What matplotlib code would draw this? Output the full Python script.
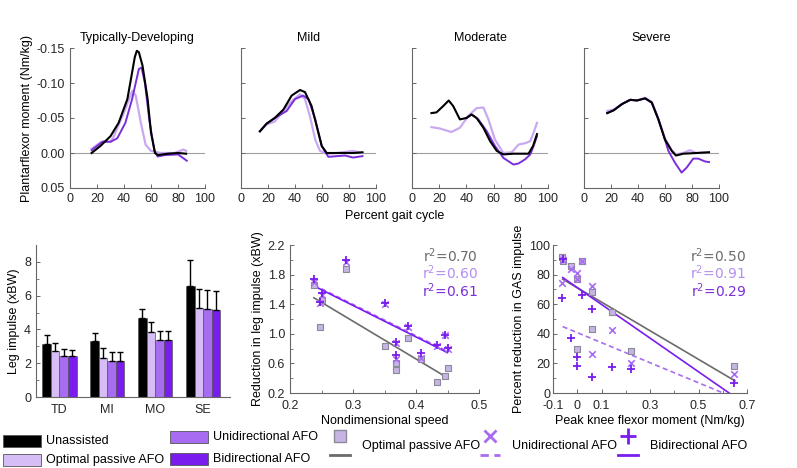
import numpy as np
import matplotlib.pyplot as plt
from matplotlib.patches import Rectangle

plt.rcParams['font.family'] = ['Liberation Sans', 'DejaVu Sans']
plt.rcParams['font.size'] = 9

PASSIVE = '#d6bdf6'
UNI = '#a86cf2'
BI = '#7a1cee'
LINE_LIGHT = '#c9a9f1'
LINE_PURPLE = '#7b2fd9'
GRAY = '#6b6b6b'
SPINE = '#666666'
TXT = '#262626'

# ---- top row: plantarflexor moment over the gait cycle ----
panel_titles = ['Typically-Developing', 'Mild', 'Moderate', 'Severe']

td_black_x = [16, 22.5, 30, 36, 42.5, 46, 48, 49.5, 51, 53.7, 57.5, 60, 63, 65, 72.5, 80, 86]
td_black_y = [0, -0.010, -0.024, -0.043, -0.077, -0.115, -0.137, -0.146, -0.144, -0.125, -0.077, -0.029, 0, 0.003, 0.001, 0, 0.001]
td_light_x = [16, 22.5, 25, 30, 32.5, 40, 46.2, 48.7, 52.5, 56, 60, 67.5, 77.5, 84, 86]
td_light_y = [-0.006, -0.015, -0.017, -0.016, -0.024, -0.058, -0.089, -0.082, -0.043, -0.012, -0.003, 0, 0, -0.005, -0.003]
td_purple_x = [16, 24, 30, 35, 41, 46, 51, 53, 55.5, 58.7, 62.5, 65, 70, 80, 86.5]
td_purple_y = [-0.004, -0.016, -0.016, -0.021, -0.043, -0.077, -0.120, -0.122, -0.100, -0.048, -0.003, 0.005, 0.003, 0.002, 0.011]

mi_black_x = [14, 19, 25, 31.4, 37.5, 43.7, 47.4, 52.3, 56, 59.8, 63.5, 71, 83, 90]
mi_black_y = [-0.031, -0.042, -0.050, -0.062, -0.082, -0.090, -0.087, -0.067, -0.039, -0.010, 0, 0, 0, -0.001]
mi_light_x = [14, 19, 25, 31.4, 37.5, 43.7, 47.4, 51, 55, 58.5, 63.5, 71, 83, 90]
mi_light_y = [-0.031, -0.041, -0.045, -0.060, -0.074, -0.084, -0.077, -0.053, -0.019, -0.003, 0.001, 0, -0.003, 0]
mi_purple_x = [14, 19, 25, 33.8, 40, 46, 50, 55, 59.8, 64.7, 71, 77, 83, 90]
mi_purple_y = [-0.031, -0.042, -0.050, -0.060, -0.077, -0.082, -0.077, -0.048, -0.010, 0.0055, 0.0045, 0.0036, 0.0065, 0.0045]

mo_black_x = [14.3, 18, 22.9, 27, 30.3, 35.2, 40, 43.8, 47.5, 52.5, 57.4, 62.3, 67.2, 74.6, 82, 85.7, 89, 91.9]
mo_black_y = [-0.057, -0.058, -0.067, -0.075, -0.067, -0.048, -0.050, -0.055, -0.050, -0.036, -0.017, -0.003, 0.002, 0.001, 0.001, 0.001, -0.010, -0.027]
mo_light_x = [14.3, 20.4, 29, 35.2, 41.4, 47.5, 52.5, 56.2, 61, 67.2, 73.4, 78.3, 83.2, 87, 89.4, 91.9]
mo_light_y = [-0.037, -0.035, -0.030, -0.036, -0.053, -0.064, -0.065, -0.048, -0.019, 0, -0.001, -0.012, -0.014, -0.017, -0.029, -0.043]
mo_purple_x = [40, 43.8, 48.8, 55, 61, 67.2, 74.6, 78.3, 83.2, 87, 89.4, 91.9]
mo_purple_y = [-0.050, -0.055, -0.048, -0.031, -0.010, 0.007, 0.0165, 0.015, 0.009, 0.002, -0.010, -0.024]

se_black_x = [17.2, 22, 28.2, 34.3, 39.2, 45.3, 50.2, 55.1, 60, 65, 68.1, 73.5, 83.3, 92.6]
se_black_y = [-0.057, -0.061, -0.070, -0.076, -0.075, -0.078, -0.072, -0.048, -0.019, -0.003, 0.0036, 0.001, 0, -0.001]
se_light_x = [17.2, 22, 28.2, 34.3, 39.2, 45.3, 50.2, 55.1, 60, 65, 68.1, 73.5, 78.4, 83.3, 92.6]
se_light_y = [-0.060, -0.062, -0.070, -0.076, -0.075, -0.079, -0.073, -0.049, -0.021, -0.004, 0.002, 0.000, -0.004, 0, -0.001]
se_purple_x = [17.2, 22, 28.2, 34.3, 39.2, 45.3, 50.2, 55.1, 60, 62.5, 67.4, 72.3, 76, 80.9, 84.6, 89.5, 92.6]
se_purple_y = [-0.057, -0.061, -0.070, -0.076, -0.075, -0.078, -0.072, -0.048, -0.019, -0.003, 0.014, 0.028, 0.021, 0.008, 0.008, 0.012, 0.013]

# ---- bottom left: leg impulse ----
groups = ['TD', 'MI', 'MO', 'SE']
imp_unassisted = [3.15, 3.30, 4.65, 6.60]
imp_passive = [2.70, 2.30, 3.85, 5.25]
imp_uni = [2.45, 2.15, 3.40, 5.20]
imp_bi = [2.40, 2.15, 3.40, 5.15]
err_unassisted = [0.50, 0.50, 0.55, 1.50]
err_passive = [0.50, 0.60, 0.60, 1.15]
err_uni = [0.40, 0.50, 0.50, 1.15]
err_bi = [0.40, 0.50, 0.50, 1.15]

# ---- bottom middle: reduction vs speed ----
speed = [0.238, 0.248, 0.250, 0.289, 0.350, 0.368, 0.369, 0.387, 0.408, 0.433, 0.446, 0.451]
red_passive = [1.66, 1.09, 1.46, 1.88, 0.84, 0.61, 0.51, 0.95, 0.66, 0.35, 0.43, 0.54]
red_uni = [1.70, 1.41, 1.53, 1.97, 1.40, 0.66, 0.88, 1.09, 0.67, 0.83, 0.98, 0.80]
red_bi = [1.74, 1.43, 1.55, 2.00, 1.41, 0.71, 0.89, 1.11, 0.74, 0.85, 0.99, 0.81]
speed_fit_slope = [-5.10, -4.23, -4.25]
speed_fit_icpt = [2.70, 2.666, 2.658]
speed_fit_range = [(0.238, 0.446), (0.238, 0.451), (0.238, 0.450)]
speed_r2 = ['0.70', '0.60', '0.61']

# ---- bottom right: GAS impulse vs knee moment ----
knee = [-0.061, -0.060, -0.027, -0.003, 0.000, 0.021, 0.059, 0.061, 0.145, 0.221, 0.648]
gas_passive = [92.0, 89.0, 85.8, 29.9, 76.8, 89.0, 68.4, 43.0, 55.0, 28.4, 18.2]
gas_uni = [74.5, 90.0, 83.6, 80.9, 77.0, 89.2, 72.3, 26.1, 42.6, 20.0, 12.8]
gas_bi = [64.0, 90.5, 37.0, 18.5, 24.1, 66.2, 56.8, 10.6, 17.4, 16.0, 6.5]
knee_fit_slope = [-96.7, -67.8, -113.7]
knee_fit_icpt = [71.1, 40.8, 71.2]
knee_r2 = ['0.50', '0.91', '0.29']

W, H = 797, 468
fig = plt.figure(figsize=(W / 100, H / 100), dpi=100)


def px_axes(x0, y0, x1, y1):
    return fig.add_axes([x0 / W, 1 - y1 / H, (x1 - x0) / W, (y1 - y0) / H])


def style(ax):
    for s in ['top', 'right']:
        ax.spines[s].set_visible(False)
    for s in ['left', 'bottom']:
        ax.spines[s].set_color(SPINE)
        ax.spines[s].set_linewidth(0.8)
    ax.tick_params(direction='in', length=3, width=0.7, colors=SPINE,
                   labelcolor=TXT, labelsize=9)
    ax.tick_params(which='minor', direction='in', length=2, width=0.6, colors=SPINE)


# top row
tops = [(70, 205), (241, 376), (412, 548), (584, 719)]
curves = [
    [(td_black_x, td_black_y), (td_light_x, td_light_y), (td_purple_x, td_purple_y)],
    [(mi_black_x, mi_black_y), (mi_light_x, mi_light_y), (mi_purple_x, mi_purple_y)],
    [(mo_black_x, mo_black_y), (mo_light_x, mo_light_y), (mo_purple_x, mo_purple_y)],
    [(se_black_x, se_black_y), (se_light_x, se_light_y), (se_purple_x, se_purple_y)],
]
for i, (x0, x1) in enumerate(tops):
    ax = px_axes(x0, 48, x1, 188)
    style(ax)
    ax.axhline(0, color='#a0a0a0', lw=0.8, zorder=1)
    (bx, by), (lx, ly), (px_, py) = curves[i]
    ax.plot(lx, ly, color=LINE_LIGHT, lw=1.6, zorder=2)
    ax.plot(px_, py, color=LINE_PURPLE, lw=1.4, zorder=3)
    ax.plot(bx, by, color='black', lw=1.5, zorder=4)
    ax.set_xlim(0, 100)
    ax.set_ylim(0.05, -0.15)
    ax.set_xticks([0, 20, 40, 60, 80, 100])
    ax.set_yticks([-0.15, -0.10, -0.05, 0.0, 0.05])
    ax.set_title(panel_titles[i], fontsize=9, pad=5)
    if i == 0:
        ax.set_yticklabels(['-0.15', '-0.10', '-0.05', '0.00', '0.05'])
        ax.set_ylabel('Plantarflexor moment (Nm/kg)', fontsize=9, labelpad=3)
    else:
        ax.set_yticklabels([])
fig.text(395 / W, 1 - 216 / H, 'Percent gait cycle', ha='center', va='center', fontsize=9)

# bar chart
ax = px_axes(36, 245, 230, 397)
style(ax)
pos = np.arange(len(groups))
w = 0.178
series = [(imp_unassisted, err_unassisted, 'black'), (imp_passive, err_passive, PASSIVE),
          (imp_uni, err_uni, UNI), (imp_bi, err_bi, BI)]
for k, (vals, errs, col) in enumerate(series):
    xs = pos + (k - 1.5) * w
    ax.bar(xs, vals, width=w, color=col, edgecolor='#555555', linewidth=0.5, zorder=2)
    ax.errorbar(xs, vals, yerr=[np.zeros(len(vals)), errs], fmt='none', ecolor='black',
                elinewidth=1, capsize=2.5, capthick=1, zorder=3)
ax.set_xlim(-0.49, 3.56)
ax.set_ylim(0, 9)
ax.set_xticks(pos)
ax.set_xticklabels(groups)
ax.set_yticks([0, 2, 4, 6, 8])
ax.set_yticks([1, 3, 5, 7], minor=True)
ax.tick_params(axis='x', length=0, pad=5)
ax.set_ylabel('Leg impulse (xBW)', fontsize=9, labelpad=3)

# reduction vs speed
ax = px_axes(290, 245, 479, 393)
style(ax)
fit_cols = [GRAY, UNI, BI]
for k in range(3):
    xa, xb = speed_fit_range[k]
    xx = np.array([xa, xb])
    ax.plot(xx, speed_fit_icpt[k] + speed_fit_slope[k] * xx, color=fit_cols[k],
            lw=1.2, dashes=(3, 2) if k == 1 else (None, None), zorder=2)
ax.scatter(speed, red_passive, marker='s', s=22, facecolor='#c6b5e4', edgecolor='#8c8a99',
           linewidth=0.8, zorder=3)
ax.scatter(speed, red_uni, marker='x', s=22, color=UNI, linewidth=1.2, zorder=4)
ax.scatter(speed, red_bi, marker='+', s=40, color=BI, linewidth=1.3, zorder=5)
ax.set_xlim(0.2, 0.5)
ax.set_ylim(0.2, 2.2)
ax.set_xticks([0.2, 0.3, 0.4, 0.5])
ax.set_xticks([0.25, 0.35, 0.45], minor=True)
ax.set_yticks([0.2, 0.6, 1.0, 1.4, 1.8, 2.2])
ax.set_yticks([0.4, 0.8, 1.2, 1.6, 2.0], minor=True)
ax.set_yticklabels(['0.2', '0.6', '1.0', '1.4', '1.8', '2.2'])
ax.tick_params(axis='x', pad=5)
ax.set_xlabel('Nondimensional speed', fontsize=9, labelpad=2)
ax.set_ylabel('Reduction in leg impulse (xBW)', fontsize=9, labelpad=3)
r2_cols = [GRAY, '#b58ef0', '#7b2fd9']
for k in range(3):
    ax.text(0.995, 0.93 - k * 0.12, 'r$^2$=' + speed_r2[k], transform=ax.transAxes,
            ha='right', va='center', color=r2_cols[k], fontsize=10, family='DejaVu Sans')

# GAS impulse vs knee moment
ax = px_axes(553, 245, 747, 393)
style(ax)
xx = np.array([-0.06, 0.65])
for k in range(3):
    ax.plot(xx, knee_fit_icpt[k] + knee_fit_slope[k] * xx, color=fit_cols[k],
            lw=1.2, dashes=(3, 2) if k == 1 else (None, None), zorder=2)
ax.scatter(knee, gas_passive, marker='s', s=22, facecolor='#c6b5e4', edgecolor='#8c8a99',
           linewidth=0.8, zorder=3)
ax.scatter(knee, gas_uni, marker='x', s=22, color=UNI, linewidth=1.2, zorder=4)
ax.scatter(knee, gas_bi, marker='+', s=40, color=BI, linewidth=1.3, zorder=5)
ax.set_xlim(-0.1, 0.7)
ax.set_ylim(0, 100)
ax.set_xticks([-0.1, 0, 0.1, 0.3, 0.5, 0.7])
ax.set_xticklabels(['-0.1', '0', '0.1', '0.3', '0.5', '0.7'])
ax.set_xticks([0.2, 0.4, 0.6], minor=True)
ax.set_yticks([0, 20, 40, 60, 80, 100])
ax.set_yticks([10, 30, 50, 70, 90], minor=True)
ax.tick_params(axis='x', pad=5)
ax.tick_params(axis='y', pad=2)
ax.set_xlabel('Peak knee flexor moment (Nm/kg)', fontsize=9, labelpad=2)
ax.set_ylabel('Percent reduction in GAS impulse', fontsize=9, labelpad=3)
for k in range(3):
    ax.text(0.995, 0.93 - k * 0.12, 'r$^2$=' + knee_r2[k], transform=ax.transAxes,
            ha='right', va='center', color=r2_cols[k], fontsize=10, family='DejaVu Sans')

# legends drawn in pixel space
lax = fig.add_axes([0, 0, 1, 1], zorder=-1)
lax.set_xlim(0, W)
lax.set_ylim(H, 0)
lax.axis('off')
bar_leg = [('Unassisted', 'black', 3, 435), ('Optimal passive AFO', PASSIVE, 3, 454),
           ('Unidirectional AFO', UNI, 170, 431), ('Bidirectional AFO', BI, 170, 453)]
for label, col, lx, ly in bar_leg:
    lax.add_patch(Rectangle((lx, ly), 38, 12, facecolor=col, edgecolor='#555555', lw=0.6))
    lax.text(lx + 43, ly + 6, label, va='center', ha='left', fontsize=9)

sc_leg = [('Optimal passive AFO', 's', GRAY, 340), ('Unidirectional AFO', 'x', UNI, 490),
          ('Bidirectional AFO', '+', BI, 628)]
for k, (label, mk, col, lx) in enumerate(sc_leg):
    if mk == 's':
        lax.plot([lx], [436], marker='s', ms=9, mfc='#c6b5e4', mec='#8c8a99', mew=1)
    else:
        lax.plot([lx], [436], marker=mk, ms=9 if mk == 'x' else 11, color=col, mew=2)
    lax.plot([lx - 10, lx + 10], [455, 455], color=col, lw=2,
             dashes=(3, 2) if k == 1 else (None, None))
    lax.text(lx + 22, 446, label, va='center', ha='left', fontsize=9)

fig.savefig('out.png', dpi=100)
